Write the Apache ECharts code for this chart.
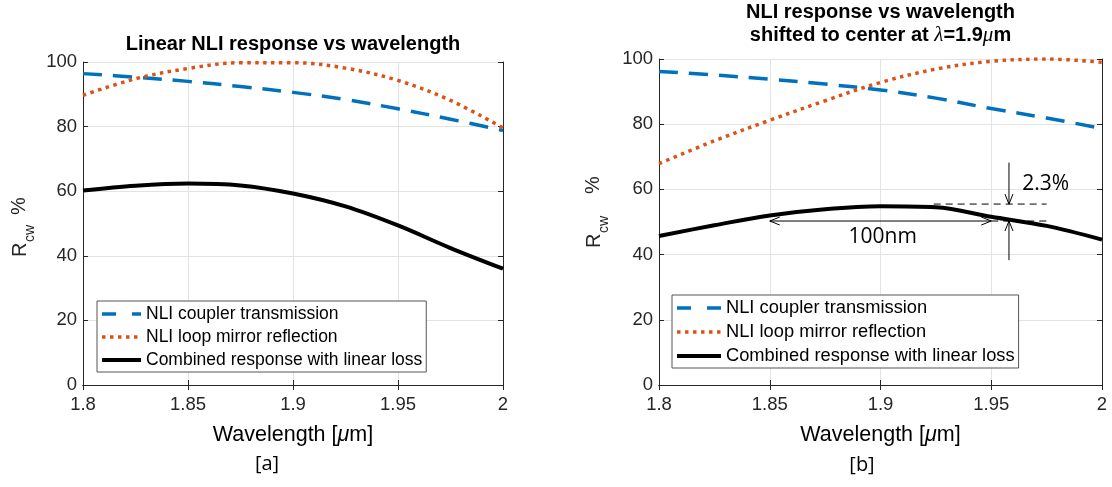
<!DOCTYPE html>
<html>
<head>
<meta charset="utf-8">
<script src="https://cdn.jsdelivr.net/npm/echarts@6/dist/echarts.min.js"></script>
<style>
  html, body { margin: 0; padding: 0; background: #fff; }
  #chart { width: 1112px; height: 487px; }
</style>
</head>
<body>
<div id="chart"></div>
<script>
// Wavelength samples (um) shared by both panels
const wavelength = [1.8, 1.825, 1.85, 1.875, 1.9, 1.925, 1.95, 1.975, 2.0];

// Panel [a]: linear NLI response
const couplerA  = [96.4, 95.3, 94.0, 92.4, 90.6, 88.4, 85.5, 82.3, 78.8];
const loopA     = [89.7, 94.8, 98.0, 99.8, 99.8, 98.1, 94.3, 88.1, 79.6];
const combinedA = [60.2, 61.7, 62.4, 61.8, 59.3, 55.3, 49.4, 42.4, 36.0];

// Panel [b]: response shifted to centre at 1.9 um
const couplerB  = [96.2, 95.1, 93.8, 92.3, 90.5, 88.0, 84.8, 81.9, 78.7];
const loopB     = [67.9, 74.9, 81.2, 87.2, 92.8, 96.9, 99.3, 100.0, 99.0];
const combinedB = [45.7, 49.0, 52.0, 53.9, 54.8, 54.5, 51.6, 48.8, 44.6];

const xTickLabels = ['1.8', '1.85', '1.9', '1.95', '2'];
const yTickLabels = ['0', '20', '40', '60', '80', '100'];
const seriesNames = ['NLI coupler transmission', 'NLI loop mirror reflection', 'Combined response with linear loss'];

// Bandwidth annotation on panel [b]: [x1, y1, x2, y2, headAtStart, headAtEnd, dashed]
const bandSegments = [
  [1.85, 50.3, 1.95, 50.3, 1, 1, 0],
  [1.924, 55.5, 1.975, 55.5, 0, 0, 1],
  [1.95, 50.3, 1.975, 50.3, 0, 0, 1],
  [1.958, 68.2, 1.958, 55.5, 0, 1, 0],
  [1.958, 38.3, 1.958, 50.3, 0, 1, 0]
];
const bandTexts = ['100nm', '2.3%'];
const bandTextPos = [[1.901, 45.4], [1.964, 61.8]];

const FONT = 'Liberation Sans, Arial, sans-serif';
const AXIS_COLOR = '#262626';
const BLUE = '#0072BD', ORANGE = '#D95319', BLACK = '#000000';

const pairs = (ys) => wavelength.map((x, i) => [x, ys[i]]);

function xLabel(v) {
  return xTickLabels[Math.round((v - 1.8) / 0.05)];
}
function yLabel(v) {
  return yTickLabels[Math.round(v / 20)];
}

function xAxes(gridIndex) {
  const base = { type: 'value', gridIndex, min: 1.8, max: 2.0, interval: 0.05,
    axisLine: { show: true, lineStyle: { color: AXIS_COLOR, width: 1 } },
    axisTick: { show: true, inside: true, length: 5, lineStyle: { color: AXIS_COLOR } } };
  return [
    Object.assign({}, base, { position: 'bottom',
      splitLine: { show: true, lineStyle: { color: '#e3e3e3', width: 1 } },
      axisLabel: { show: true, margin: 10, fontFamily: FONT, fontSize: 18.5, color: AXIS_COLOR, formatter: xLabel } }),
    Object.assign({}, base, { position: 'top', splitLine: { show: false }, axisLabel: { show: false } })
  ];
}
function yAxes(gridIndex) {
  const base = { type: 'value', gridIndex, min: 0, max: 100, interval: 20,
    axisLine: { show: true, lineStyle: { color: AXIS_COLOR, width: 1 } },
    axisTick: { show: true, inside: true, length: 5, lineStyle: { color: AXIS_COLOR } } };
  return [
    Object.assign({}, base, { position: 'left',
      splitLine: { show: true, lineStyle: { color: '#e3e3e3', width: 1 } },
      axisLabel: { show: true, margin: 6, fontFamily: FONT, fontSize: 18.5, color: AXIS_COLOR, formatter: yLabel } }),
    Object.assign({}, base, { position: 'right', splitLine: { show: false }, axisLabel: { show: false } })
  ];
}

function curves(axisIdx, coupler, loop, combined) {
  const common = { type: 'line', xAxisIndex: axisIdx, yAxisIndex: axisIdx, smooth: 0.35,
    symbol: 'none', showSymbol: false, silent: true, z: 3 };
  return [
    Object.assign({}, common, { name: seriesNames[0], data: pairs(coupler),
      lineStyle: { color: BLUE, width: 3.5, type: [19, 11] }, itemStyle: { color: BLUE } }),
    Object.assign({}, common, { name: seriesNames[1], data: pairs(loop),
      lineStyle: { color: ORANGE, width: 3.5, type: [3.5, 4.5] }, itemStyle: { color: ORANGE } }),
    Object.assign({}, common, { name: seriesNames[2], data: pairs(combined),
      lineStyle: { color: BLACK, width: 4 }, itemStyle: { color: BLACK } })
  ];
}

// Line-only legend keys (the marker dot is made invisible)
const hiddenMarker = { color: 'rgba(0,0,0,0)', borderColor: 'rgba(0,0,0,0)', borderWidth: 0, opacity: 0 };

function legend(left, top, fontSize, itemWidth, rowH) {
  return {
    orient: 'vertical', left, top, itemWidth, itemHeight: 14, itemGap: rowH - 20,
    padding: [3, 4, 2, 3], borderColor: '#555', borderWidth: 1, backgroundColor: '#fff',
    selectedMode: false,
    itemStyle: hiddenMarker,
    textStyle: { fontFamily: FONT, fontSize, color: '#000', lineHeight: 20 },
    data: [
      { name: seriesNames[0], itemStyle: hiddenMarker, lineStyle: { type: [14, 16], width: 3.5 } },
      { name: seriesNames[1], itemStyle: hiddenMarker, lineStyle: { type: [3.5, 4.5], width: 3.5 } },
      { name: seriesNames[2], itemStyle: hiddenMarker, lineStyle: { width: 4 } }
    ]
  };
}

function renderSegment(params, api) {
  const p1 = api.coord([api.value(0), api.value(1)]);
  const p2 = api.coord([api.value(2), api.value(3)]);
  const children = [{
    type: 'line',
    shape: { x1: p1[0], y1: p1[1], x2: p2[0], y2: p2[1] },
    style: { stroke: '#000', lineWidth: 1, lineDash: api.value(6) ? [7, 5] : null }
  }];
  const head = (tip, from) => {
    const dx = tip[0] - from[0], dy = tip[1] - from[1];
    const L = Math.hypot(dx, dy), ux = dx / L, uy = dy / L;
    const len = 10, w = 4;
    return {
      type: 'polyline',
      shape: { points: [
        [tip[0] - ux * len - uy * w, tip[1] - uy * len + ux * w],
        [tip[0], tip[1]],
        [tip[0] - ux * len + uy * w, tip[1] - uy * len - ux * w]
      ] },
      style: { stroke: '#000', fill: null, lineWidth: 1 }
    };
  };
  if (api.value(4)) children.push(head(p1, p2));
  if (api.value(5)) children.push(head(p2, p1));
  return { type: 'group', children };
}

function renderBandText(params, api) {
  const p = api.coord([api.value(0), api.value(1)]);
  const i = params.dataIndex;
  return {
    type: 'text', x: p[0], y: p[1],
    style: { text: bandTexts[i], fontFamily: 'Open Sans, Liberation Sans, sans-serif', fontSize: 21, fill: '#000',
      align: i === 0 ? 'center' : 'left', verticalAlign: 'middle',
      textAlign: i === 0 ? 'center' : 'left', textVerticalAlign: 'middle' }
  };
}

// Rotated "R_cw  %" axis title
function yTitle(cx, startY, pctOffset) {
  const st = (text, size) => ({ text, fontFamily: FONT, fontSize: size, fill: AXIS_COLOR,
    align: 'left', verticalAlign: 'middle', textAlign: 'left', textVerticalAlign: 'middle' });
  return {
    type: 'group', x: cx, y: startY, rotation: Math.PI / 2, silent: true,
    children: [
      { type: 'text', x: 0, y: 0, style: st('R', 20) },
      { type: 'text', x: 15, y: 10, style: st('cw', 14) },
      { type: 'text', x: pctOffset, y: -1, style: st('%', 20) }
    ]
  };
}

function centeredText(x, y, text, size, weight, family, rich) {
  const s = { text, fontFamily: family || FONT, fontSize: size, fontWeight: weight || 'normal', fill: '#000',
    align: 'center', verticalAlign: 'middle', textAlign: 'center', textVerticalAlign: 'middle' };
  if (rich) s.rich = rich;
  return { type: 'text', x, y, silent: true, style: s };
}

const muRich = {
  t: { fontFamily: FONT, fontSize: 21.5, color: AXIS_COLOR },
  mu: { fontFamily: FONT, fontSize: 21.5, fontStyle: 'italic', color: AXIS_COLOR }
};
const titleRich = {
  b: { fontFamily: FONT, fontSize: 20, fontWeight: 'bold', color: '#000' },
  i: { fontFamily: 'Liberation Serif, serif', fontSize: 21, fontStyle: 'italic', color: '#000' }
};

const option = {
  animation: false,
  backgroundColor: '#fff',
  grid: [
    { left: 83, top: 62, width: 420, height: 323, show: false },
    { left: 659, top: 59, width: 443, height: 326, show: false }
  ],
  xAxis: xAxes(0).concat(xAxes(1)),
  yAxis: yAxes(0).concat(yAxes(1)),
  legend: [legend(97, 301, 17.5, 39, 23), legend(672, 295, 18.3, 44, 24)],
  series: curves(0, couplerA, loopA, combinedA)
    .concat(curves(2, couplerB, loopB, combinedB).map(s => Object.assign(s, { xAxisIndex: 2, yAxisIndex: 2 })))
    .concat([
      { type: 'custom', xAxisIndex: 2, yAxisIndex: 2, silent: true, z: 5, clip: false,
        renderItem: renderSegment, data: bandSegments, encode: { x: [0, 2], y: [1, 3] } },
      { type: 'custom', xAxisIndex: 2, yAxisIndex: 2, silent: true, z: 5, clip: false,
        renderItem: renderBandText, data: bandTextPos, encode: { x: 0, y: 1 } }
    ]),
  graphic: [
    centeredText(293, 44.5, 'Linear NLI response vs wavelength', 20, 'bold'),
    centeredText(880.5, 12.5, 'NLI response vs wavelength', 20, 'bold'),
    centeredText(880.5, 35.5, '{b|shifted to center at }{i|λ}{b|=1.9}{i|μ}{b|m}', 20, 'bold', null, titleRich),
    centeredText(293, 435, '{t|Wavelength [}{mu|μ}{t|m]}', 21.5, 'normal', null, muRich),
    centeredText(880.5, 435, '{t|Wavelength [}{mu|μ}{t|m]}', 21.5, 'normal', null, muRich),
    centeredText(267, 464, '[a]', 20, 'normal', 'Open Sans, sans-serif'),
    centeredText(862, 465, '[b]', 20, 'normal', 'Open Sans, sans-serif'),
    yTitle(20, 257, 42),
    yTitle(594, 248, 54)
  ]
};

const chart = echarts.init(document.getElementById('chart'), null, { renderer: 'canvas' });
chart.setOption(option);
</script>
</body>
</html>
